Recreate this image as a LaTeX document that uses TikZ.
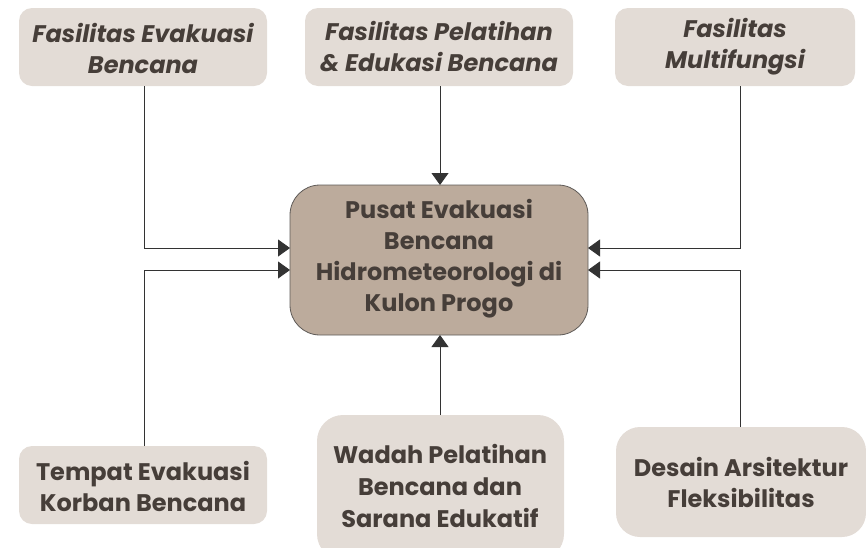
\documentclass[tikz,border=0pt]{standalone}
\usepackage{fontspec}
\setmainfont{Poppins}
\usetikzlibrary{arrows.meta}
\definecolor{boxfill}{HTML}{E3DCD6}
\definecolor{hubfill}{HTML}{BCAB9C}
\definecolor{hubline}{HTML}{5E5A57}
\definecolor{txt}{HTML}{463E39}
\definecolor{wire}{HTML}{333333}
\tikzset{
  x=1pt, y=-1pt,
  card/.style={fill=boxfill, rounded corners=13pt, draw=none},
  label/.style={text=txt, font=\fontsize{24}{31}\selectfont\bfseries, align=center, inner sep=0pt},
  ilabel/.style={label, font=\fontsize{24}{31}\selectfont\bfseries\itshape},
  wire/.style={draw=wire, line width=0.9pt},
  feed/.style={wire, -{Triangle[length=12pt, width=17pt]}},
}
\begin{document}
\begin{tikzpicture}
\useasboundingbox (0,0) rectangle (866,547);
\begin{scope}
\clip (0,0) rectangle (866,547);
% outer cards
\path[card] (19,8) rectangle (267,86);
\path[card] (305,8) rectangle (573,86);
\path[card] (615,8) rectangle (855,86);
\path[card] (19,446) rectangle (267,524);
\path[card, rounded corners=26pt] (317,415) rectangle (564,560);
\path[card, rounded corners=24pt] (616,427) rectangle (866,537);
% central hub
\path[fill=hubfill, draw=hubline, line width=0.8pt, rounded corners=30pt] (290,185) rectangle (588,335);
\end{scope}
% texts
\node[ilabel] (tl) at (143,48) {Fasilitas Evakuasi\\Bencana};
\node[ilabel] (tc) at (439,47) {Fasilitas Pelatihan\\\& Edukasi Bencana};
\node[ilabel] (tr) at (735,47) {Fasilitas\\Multifungsi};
\node[label] (bl) at (143,486) {Tempat Evakuasi\\Korban Bencana};
\node[label, font=\fontsize{24}{32}\selectfont\bfseries] (bc) at (440,486) {Wadah Pelatihan\\Bencana dan\\Sarana Edukatif};
\node[label] (br) at (741,482) {Desain Arsitektur\\Fleksibilitas};
\node[label] (hub) at (439,259) {Pusat Evakuasi\\Bencana\\Hidrometeorologi di\\Kulon Progo};
% anchor points on the cards and hub
\coordinate (tlS) at (144,86);
\coordinate (tcS) at (440,86);
\coordinate (trS) at (740,86);
\coordinate (blN) at (144,446);
\coordinate (bcN) at (440,415);
\coordinate (brN) at (740,427);
\coordinate (hubW1) at (290,248);
\coordinate (hubW2) at (290,270);
\coordinate (hubE1) at (588,248);
\coordinate (hubE2) at (588,270);
\coordinate (hubN) at (440,185);
\coordinate (hubS) at (440,335);
% connectors
\draw[feed] (tlS) |- (hubW1);
\draw[feed] (blN) |- (hubW2);
\draw[feed] (trS) |- (hubE1);
\draw[feed] (brN) |- (hubE2);
\draw[feed] (tcS) -- (hubN);
\draw[feed] (bcN) -- (hubS);
\end{tikzpicture}
\end{document}
